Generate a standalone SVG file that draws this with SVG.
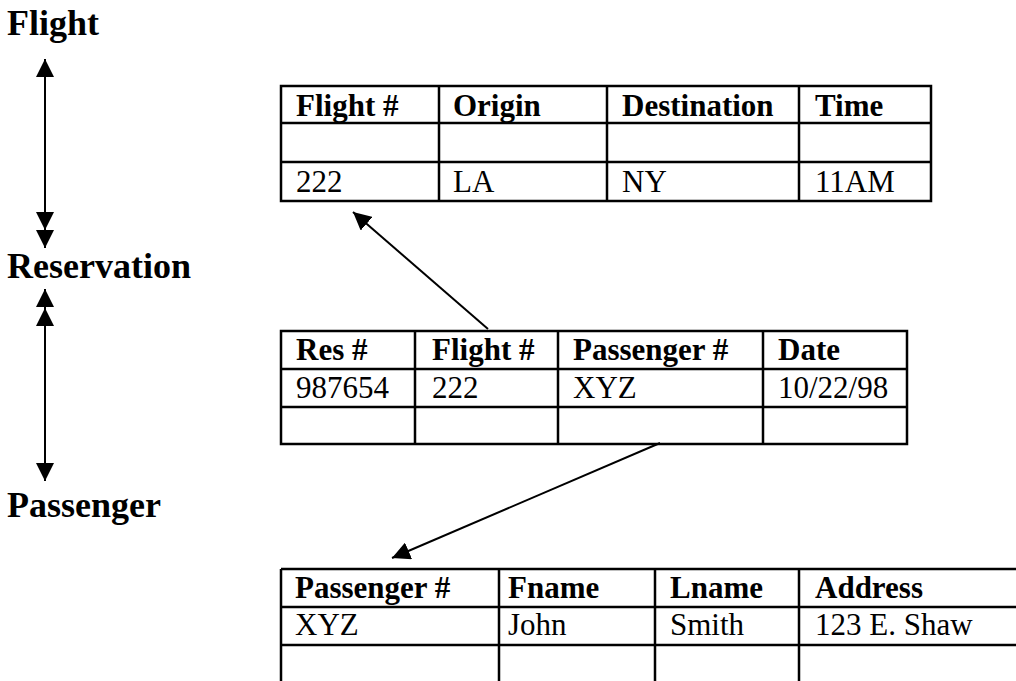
<svg xmlns="http://www.w3.org/2000/svg" width="1016" height="681" viewBox="0 0 1016 681">
<defs>
<style>
.t{font-family:"Liberation Serif","Times New Roman",serif;font-size:31px;fill:#000}
.b{font-weight:bold}
.lbl{font-family:"Liberation Serif","Times New Roman",serif;font-size:36px;font-weight:bold;fill:#000}
.g{stroke:#000;stroke-width:2.5;fill:none}
.c{stroke:#000;stroke-width:2;fill:none}
</style>
<marker id="ah" markerUnits="userSpaceOnUse" markerWidth="18" markerHeight="18" viewBox="0 0 16 16" refX="16" refY="8" orient="auto-start-reverse">
<path d="M0,0 L16,8 L0,16 Z" fill="#000"/>
</marker>
</defs>
<rect width="1016" height="681" fill="#fff"/>

<g id="label-flight"><text class="lbl" x="7" y="35">Flight</text></g>
<g id="label-reservation"><text class="lbl" x="7" y="278">Reservation</text></g>
<g id="label-passenger"><text class="lbl" x="7" y="517">Passenger</text></g>

<g id="table-flight">
<path class="g" d="M281,86 H931 V201 H281 Z M281,123 H931 M281,162 H931 M439,86 V201 M607,86 V201 M799,86 V201"/>
<text class="t b" x="296" y="116">Flight #</text>
<text class="t b" x="453" y="116">Origin</text>
<text class="t b" x="622" y="116">Destination</text>
<text class="t b" x="815" y="116">Time</text>
<text class="t" x="296" y="192">222</text>
<text class="t" x="453" y="192">LA</text>
<text class="t" x="622" y="192">NY</text>
<text class="t" x="815" y="192">11AM</text>
</g>

<g id="table-reservation">
<path class="g" d="M281,331 H907 V444 H281 Z M281,369 H907 M281,407 H907 M415,331 V444 M558,331 V444 M763,331 V444"/>
<text class="t b" x="296" y="360">Res #</text>
<text class="t b" x="432" y="360">Flight #</text>
<text class="t b" x="573" y="360">Passenger #</text>
<text class="t b" x="778" y="360">Date</text>
<text class="t" x="296" y="398">987654</text>
<text class="t" x="432" y="398">222</text>
<text class="t" x="573" y="398">XYZ</text>
<text class="t" x="778" y="398">10/22/98</text>
</g>

<g id="table-passenger">
<path class="g" d="M281,569 H1016 M281,607 H1016 M281,645 H1016 M281,569 V681 M499,569 V681 M655,569 V681 M799,569 V681"/>
<text class="t b" x="295" y="598">Passenger #</text>
<text class="t b" x="508" y="598">Fname</text>
<text class="t b" x="670" y="598">Lname</text>
<text class="t b" x="815" y="598">Address</text>
<text class="t" x="295" y="635">XYZ</text>
<text class="t" x="508" y="635">John</text>
<text class="t" x="670" y="635">Smith</text>
<text class="t" x="815" y="635">123 E. Shaw</text>
</g>

<g id="connectors">
<path class="c" d="M45,59 V230" marker-start="url(#ah)" marker-end="url(#ah)"/>
<path class="c" d="M45,215 V248" marker-end="url(#ah)"/>
<path class="c" d="M45,289 V481" marker-start="url(#ah)" marker-end="url(#ah)"/>
<path class="c" d="M45,308 V330" marker-start="url(#ah)"/>
<path class="c" d="M488,329 L353,212" marker-end="url(#ah)"/>
<path class="c" d="M660,443 L392,558" marker-end="url(#ah)"/>
</g>
</svg>
